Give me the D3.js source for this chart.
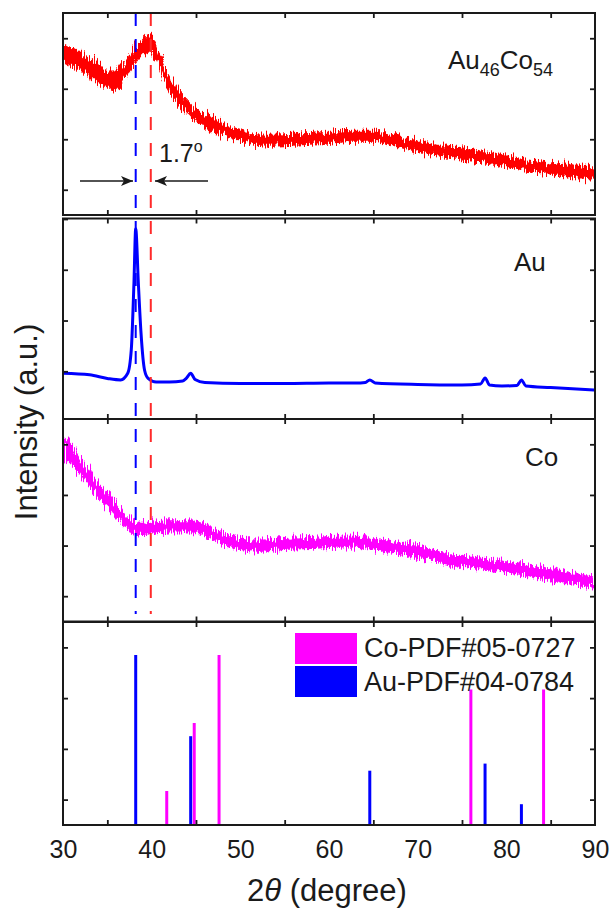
<!DOCTYPE html>
<html>
<head>
<meta charset="utf-8">
<script src="https://cdn.jsdelivr.net/npm/d3@7"></script>
<style>
  body { margin: 0; background: #fff; }
  text { font-family: "Liberation Sans", Arial, sans-serif; fill: #1a1a1a; }
</style>
</head>
<body>
<script>
// x axis ticks
const xMajor = [30, 40, 50, 60, 70, 80, 90];
const xMinor = [35, 45, 55, 65, 75, 85];

// y ticks (no labels) for each panel
const yMajor = [[1, 2, 3], [0, 1, 2, 3], [1, 2, 3], [1, 2, 3]];
const yMinor = [[0.5, 1.5, 2.5, 3.5], [0.5, 1.5, 2.5, 3.5], [0.5, 1.5, 2.5, 3.5], [0.5, 1.5, 2.5, 3.5]];

// Au46Co54 pattern: centre of the noisy trace and half width of the noise band
const alloyTheta = [30, 31, 32, 33, 34, 35, 36, 37, 38, 39, 39.7, 40.5, 41, 42, 43, 44, 45, 47, 49, 51, 53, 55, 57, 60, 63, 65, 67, 70, 73, 75, 78, 80, 83, 85, 88, 90];
const alloyMid = [3.23, 3.13, 3.05, 2.93, 2.8, 2.66, 2.67, 2.88, 3.13, 3.33, 3.42, 3.22, 2.97, 2.61, 2.34, 2.14, 1.98, 1.78, 1.62, 1.52, 1.47, 1.48, 1.5, 1.53, 1.57, 1.57, 1.5, 1.36, 1.26, 1.22, 1.13, 1.08, 0.96, 0.92, 0.85, 0.82];
const alloyNoise = [0.19, 0.19, 0.19, 0.18, 0.18, 0.18, 0.18, 0.18, 0.18, 0.18, 0.18, 0.17, 0.16, 0.15, 0.14, 0.14, 0.13, 0.13, 0.12, 0.12, 0.12, 0.12, 0.12, 0.12, 0.12, 0.12, 0.12, 0.12, 0.12, 0.12, 0.12, 0.12, 0.12, 0.12, 0.12, 0.12];

// Au pattern
const auTheta = [30, 33, 35, 36.5, 37.3, 37.7, 38.0, 38.2, 38.5, 38.8, 39.2, 39.6, 40.5, 42, 43.5, 43.9, 44.4, 44.9, 46, 50, 55, 60, 63, 64.1, 64.6, 65.2, 70, 75, 77.1, 77.6, 78.1, 79.5, 81.2, 81.7, 82.2, 85, 90];
const auInt = [0.46, 0.43, 0.36, 0.33, 0.46, 0.92, 2.23, 3.31, 2.23, 1.25, 0.52, 0.36, 0.29, 0.29, 0.31, 0.36, 0.46, 0.34, 0.28, 0.26, 0.26, 0.27, 0.27, 0.28, 0.33, 0.27, 0.24, 0.23, 0.25, 0.37, 0.23, 0.21, 0.22, 0.33, 0.21, 0.18, 0.13];

// Co pattern: centre and noise half width
const coTheta = [30, 31, 32, 33, 34, 35, 36, 37, 38, 39, 40, 42, 44, 46, 48, 50, 52, 54, 56, 58, 60, 62, 64, 66, 68, 70, 72, 74, 76, 78, 80, 82, 84, 86, 88, 90];
const coMid = [3.41, 3.31, 3.05, 2.81, 2.58, 2.41, 2.22, 1.98, 1.85, 1.83, 1.85, 1.88, 1.88, 1.81, 1.63, 1.53, 1.5, 1.52, 1.54, 1.55, 1.57, 1.58, 1.56, 1.5, 1.45, 1.39, 1.29, 1.2, 1.16, 1.13, 1.09, 1.03, 0.96, 0.89, 0.83, 0.79];
const coNoise = [0.19, 0.19, 0.18, 0.17, 0.16, 0.15, 0.14, 0.13, 0.12, 0.12, 0.12, 0.12, 0.12, 0.12, 0.12, 0.12, 0.12, 0.12, 0.12, 0.12, 0.12, 0.12, 0.12, 0.12, 0.12, 0.12, 0.12, 0.12, 0.12, 0.12, 0.12, 0.12, 0.12, 0.12, 0.12, 0.12];

// reference cards
const coPdfTheta = [41.7, 44.8, 47.6, 76.0, 84.2];
const coPdfInt = [0.67, 2.01, 3.35, 2.67, 2.67];
const auPdfTheta = [38.2, 44.4, 64.6, 77.6, 81.7];
const auPdfInt = [3.35, 1.75, 1.07, 1.21, 0.41];

// dashed guide lines (Au and alloy peak positions)
const guideTheta = [38.2, 39.9];
const guideColor = ['#0000ff', '#ff2a2a'];

const legendLabels = ['Co-PDF#05-0727', 'Au-PDF#04-0784'];

const width = 614;
const height = 911;
const left = 63, right = 595;
const ink = '#1a1a1a';

const svg = d3.select('body').append('svg')
  .attr('width', width)
  .attr('height', height);

const defs = svg.append('defs');

// rough edge for the noisy scans
const rough = defs.append('filter')
  .attr('id', 'rough')
  .attr('x', '-2%').attr('y', '-30%')
  .attr('width', '104%').attr('height', '160%');
rough.append('feTurbulence')
  .attr('type', 'fractalNoise')
  .attr('baseFrequency', '0.9 0.04')
  .attr('numOctaves', 2)
  .attr('seed', 3)
  .attr('result', 'grain');
rough.append('feDisplacementMap')
  .attr('in', 'SourceGraphic')
  .attr('in2', 'grain')
  .attr('scale', 16)
  .attr('xChannelSelector', 'A')
  .attr('yChannelSelector', 'R');

const x = d3.scaleLinear().domain([30, 90]).range([left, right]);

// panel layout
const panels = [
  { top: 13, bottom: 215, domain: [0, 4] },
  { top: 218.5, bottom: 419, domain: [-0.44, 3.51] },
  { top: 419, bottom: 621.5, domain: [0, 4] },
  { top: 622, bottom: 825, domain: [0, 4] }
];

panels.forEach((p, i) => {
  p.y = d3.scaleLinear().domain(p.domain).range([p.bottom, p.top]);
  defs.append('clipPath').attr('id', 'clip' + i)
    .append('rect')
    .attr('x', left).attr('y', p.top)
    .attr('width', right - left).attr('height', p.bottom - p.top);
  p.g = svg.append('g').attr('clip-path', `url(#clip${i})`);
});

function styleAxis(g) {
  g.select('.domain').remove();
  g.selectAll('.tick line').attr('stroke', ink).attr('stroke-width', 1.8);
}

function noisyBand(p, theta, mid, noise, color) {
  const rows = theta.map((t, i) => ({ t, m: mid[i], n: noise[i] }));
  p.g.append('path')
    .datum(rows)
    .attr('fill', color)
    .attr('filter', 'url(#rough)')
    .attr('d', d3.area()
      .x(d => x(d.t))
      .y0(d => p.y(d.m - d.n))
      .y1(d => p.y(d.m + d.n))
      .curve(d3.curveMonotoneX));
}

// Au46Co54 scan
noisyBand(panels[0], alloyTheta, alloyMid, alloyNoise, '#ff0000');

// Au scan
const y1 = panels[1].y;
panels[1].g.append('path')
  .datum(auTheta.map((t, i) => ({ t, v: auInt[i] })))
  .attr('fill', 'none')
  .attr('stroke', '#0000ff')
  .attr('stroke-width', 3)
  .attr('d', d3.line()
    .x(d => x(d.t))
    .y(d => y1(d.v))
    .curve(d3.curveMonotoneX));

// Co scan
noisyBand(panels[2], coTheta, coMid, coNoise, '#ff00ff');

// reference sticks
const y3 = panels[3].y;
const sticks = coPdfTheta.map((t, i) => ({ t, v: coPdfInt[i], c: '#ff00ff' }))
  .concat(auPdfTheta.map((t, i) => ({ t, v: auPdfInt[i], c: '#0000ff' })));
panels[3].g.selectAll('line.stick')
  .data(sticks)
  .enter().append('line')
  .attr('class', 'stick')
  .attr('x1', d => x(d.t)).attr('x2', d => x(d.t))
  .attr('y1', y3(0)).attr('y2', d => y3(d.v))
  .attr('stroke', d => d.c)
  .attr('stroke-width', 3);

// dashed guides across the three measured panels
svg.selectAll('line.guide')
  .data(guideTheta)
  .enter().append('line')
  .attr('class', 'guide')
  .attr('x1', d => x(d)).attr('x2', d => x(d))
  .attr('y1', panels[0].top).attr('y2', 614)
  .attr('stroke', (d, i) => guideColor[i])
  .attr('stroke-width', 2)
  .attr('stroke-dasharray', '13 13');

// axes and frames
panels.forEach((p, i) => {
  const h = p.bottom - p.top;
  const bot = svg.append('g').attr('transform', `translate(0,${p.bottom})`);
  bot.call(d3.axisBottom(x).tickValues(xMajor).tickSize(-10).tickFormat('')).call(styleAxis);
  bot.call(d3.axisBottom(x).tickValues(xMinor).tickSize(-5).tickFormat('')).call(styleAxis);

  const top = svg.append('g').attr('transform', `translate(0,${p.top})`);
  top.call(d3.axisTop(x).tickValues(xMajor).tickSize(-10).tickFormat('')).call(styleAxis);
  top.call(d3.axisTop(x).tickValues(xMinor).tickSize(-5).tickFormat('')).call(styleAxis);

  const l = svg.append('g').attr('transform', `translate(${left},0)`);
  l.call(d3.axisLeft(p.y).tickValues(yMajor[i]).tickSize(-10).tickFormat('')).call(styleAxis);
  l.call(d3.axisLeft(p.y).tickValues(yMinor[i]).tickSize(-5).tickFormat('')).call(styleAxis);

  const r = svg.append('g').attr('transform', `translate(${right},0)`);
  r.call(d3.axisRight(p.y).tickValues(yMajor[i]).tickSize(-10).tickFormat('')).call(styleAxis);
  r.call(d3.axisRight(p.y).tickValues(yMinor[i]).tickSize(-5).tickFormat('')).call(styleAxis);

  svg.append('rect')
    .attr('x', left).attr('y', p.top)
    .attr('width', right - left).attr('height', h)
    .attr('fill', 'none')
    .attr('stroke', ink)
    .attr('stroke-width', 2);
});

// x tick labels under the last panel
const xl = svg.append('g').attr('transform', `translate(0,${panels[3].bottom})`)
  .call(d3.axisBottom(x).tickValues(xMajor).tickSize(0).tickPadding(15).tickFormat(d3.format('d')));
xl.select('.domain').remove();
xl.selectAll('text')
  .style('font-size', '25px')
  .style('font-family', '"Liberation Sans", Arial, sans-serif')
  .attr('fill', ink);

// axis titles
const xt = svg.append('text')
  .attr('x', 327).attr('y', 901)
  .attr('text-anchor', 'middle')
  .style('font-size', '31px');
xt.append('tspan').text('2');
xt.append('tspan').style('font-style', 'italic').text('θ');
xt.append('tspan').text(' (degree)');

svg.append('text')
  .attr('transform', 'translate(37,422) rotate(-90)')
  .attr('text-anchor', 'middle')
  .style('font-size', '31px')
  .text('Intensity (a.u.)');

// panel labels
const lab1 = svg.append('text').attr('x', 448).attr('y', 69).style('font-size', '26px');
lab1.append('tspan').text('Au');
lab1.append('tspan').attr('dy', 7).style('font-size', '18px').text('46');
lab1.append('tspan').attr('dy', -7).text('Co');
lab1.append('tspan').attr('dy', 7).style('font-size', '18px').text('54');

svg.append('text').attr('x', 514).attr('y', 271).style('font-size', '26px').text('Au');
svg.append('text').attr('x', 525).attr('y', 466).style('font-size', '26px').text('Co');

// 1.7 degree shift annotation
const shift = svg.append('text').attr('x', 159).attr('y', 162).style('font-size', '25px');
shift.append('tspan').text('1.7');
shift.append('tspan').attr('dy', -10).style('font-size', '16px').text('o');

defs.append('marker')
  .attr('id', 'head')
  .attr('viewBox', '0 0 12 10')
  .attr('refX', 12).attr('refY', 5)
  .attr('markerWidth', 12).attr('markerHeight', 10)
  .attr('markerUnits', 'userSpaceOnUse')
  .attr('orient', 'auto')
  .append('path')
  .attr('d', 'M0,0 L12,5 L0,10 L3,5 Z')
  .attr('fill', ink);

svg.append('line')
  .attr('x1', 80).attr('y1', 181).attr('x2', 133).attr('y2', 181)
  .attr('stroke', ink).attr('stroke-width', 1.6)
  .attr('marker-end', 'url(#head)');
svg.append('line')
  .attr('x1', 208).attr('y1', 181).attr('x2', 155).attr('y2', 181)
  .attr('stroke', ink).attr('stroke-width', 1.6)
  .attr('marker-end', 'url(#head)');

// legend
const legColors = ['#ff00ff', '#0000ff'];
const leg = svg.append('g');
legendLabels.forEach((txt, i) => {
  leg.append('rect')
    .attr('x', 295).attr('y', 633 + i * 33)
    .attr('width', 62).attr('height', 31)
    .attr('fill', legColors[i]);
  leg.append('text')
    .attr('x', 364).attr('y', 657 + i * 33.5)
    .style('font-size', '27px')
    .text(txt);
});
</script>
</body>
</html>
